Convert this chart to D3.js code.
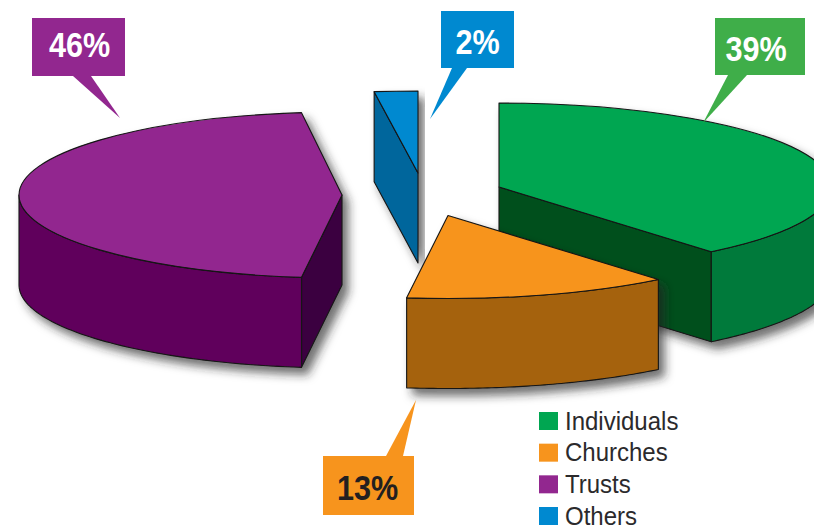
<!DOCTYPE html>
<html><head><meta charset="utf-8">
<script src="https://cdn.jsdelivr.net/npm/d3@7/dist/d3.min.js"></script>
<style>html,body{margin:0;padding:0;background:#fff;overflow:hidden}svg{display:block}</style>
</head><body><svg id="c" width="814" height="526"></svg>
<script>
const categories = ["Individuals","Churches","Trusts","Others"];
const values = [39,13,46,2];
const topColors = ["#00a651","#f7941d","#92278f","#0089d0"];
const outerColors = ["#007a3a","#a5620a","#60005c","#00669c"];
const cutColors = ["#004f1e","#7a4a08","#3b0040","#00669c"];
const labelColors = ["#fff","#231f20","#fff","#fff"];
const boxColors = ["#3fae49","#f7941d","#92278f","#0089d0"];

// layout
const DEPTH = 90;
const radiiX = [333,330,323,350];
const radiiY = [84,83,83,82];
const centres = [[499,187],[448,215.5],[342,195],[418,173]];
const boxes = [[715,18,90,57],[323,456,91,59],[32,18,93,58],[441,11,73,57]];
const tails = [[[728,75],[747,75],[703,123]],[[386,456],[403,456],[416,400]],[[73,76],[91,76],[120,118]],[[452,68],[467,68],[430,119]]];
const labelAnchors = [[756,60.5],[367.5,500],[79.5,56.5],[477.5,53.5]];
const drawOrder = [3,2,0,1];
const legendY = d3.scaleLinear().domain([0,3]).range([412,507]);
const SANS = "'Liberation Sans',sans-serif";

const svg = d3.select("#c");
const defs = svg.append("defs");
const f = defs.append("filter").attr("id","sh").attr("x","-10%").attr("y","-10%").attr("width","125%").attr("height","130%");
f.append("feDropShadow").attr("dx",6).attr("dy",7).attr("stdDeviation",5).attr("flood-color","#222").attr("flood-opacity",.65);

const slices = d3.pie().sort(null).value(d=>d)(values);
const line = d3.line();
const STROKE = "#141414";

function pt(i,a){const c=centres[i];return [c[0]+radiiX[i]*Math.sin(a), c[1]-radiiY[i]*Math.cos(a)];}
function outerFace(i,a0,a1){
  const n=60, top=d3.range(n+1).map(k=>pt(i,a0+(a1-a0)*k/n));
  const bot=top.slice().reverse().map(p=>[p[0],p[1]+DEPTH]);
  return line(top.concat(bot))+"Z";
}
function cutFace(i,a){
  const c=centres[i], p=pt(i,a);
  return line([c,p,[p[0],p[1]+DEPTH],[c[0],c[1]+DEPTH]])+"Z";
}
const HALF=Math.PI/2;
drawOrder.forEach(i=>{
  const s=slices[i], c=centres[i];
  const g=svg.append("g").attr("filter","url(#sh)").attr("stroke",STROKE).attr("stroke-width",1.1).attr("stroke-linejoin","round");
  if(i===0) g.append("path").attr("d",cutFace(i,s.endAngle)).attr("fill",cutColors[i]);
  if(i===2||i===3) g.append("path").attr("d",cutFace(i,s.startAngle)).attr("fill",cutColors[i]);
  const a0=Math.max(s.startAngle,HALF), a1=Math.min(s.endAngle,3*HALF);
  if(a1>a0) g.append("path").attr("d",outerFace(i,a0,a1)).attr("fill",outerColors[i]);
  const arc=d3.arc().innerRadius(0).outerRadius(radiiX[i]);
  g.append("path").attr("d",arc({startAngle:s.startAngle,endAngle:s.endAngle}))
    .attr("transform",`translate(${c[0]},${c[1]}) scale(1,${radiiY[i]/radiiX[i]})`)
    .attr("vector-effect","non-scaling-stroke").attr("fill",topColors[i]);
});

// callouts
values.forEach((v,i)=>{
  const b=boxes[i], a=labelAnchors[i];
  const g=svg.append("g").attr("fill",boxColors[i]);
  g.append("rect").attr("x",b[0]).attr("y",b[1]).attr("width",b[2]).attr("height",b[3]);
  g.append("path").attr("d",line(tails[i])+"Z");
  svg.append("text").attr("transform",`translate(${a[0]},${a[1]}) scale(.85,1)`)
    .attr("text-anchor","middle").attr("font-family",SANS)
    .attr("font-weight","bold").attr("font-size",36).attr("fill",labelColors[i]).text(v+"%");
});

// legend
categories.forEach((n,i)=>{
  const y=legendY(i);
  svg.append("rect").attr("x",539).attr("y",y).attr("width",19).attr("height",18).attr("fill",topColors[i]);
  svg.append("text").attr("transform",`translate(565,${y+17.5}) scale(.96,1)`).attr("font-family",SANS)
    .attr("font-size",25).attr("fill","#2b2a2c").text(n);
});
</script></body></html>
